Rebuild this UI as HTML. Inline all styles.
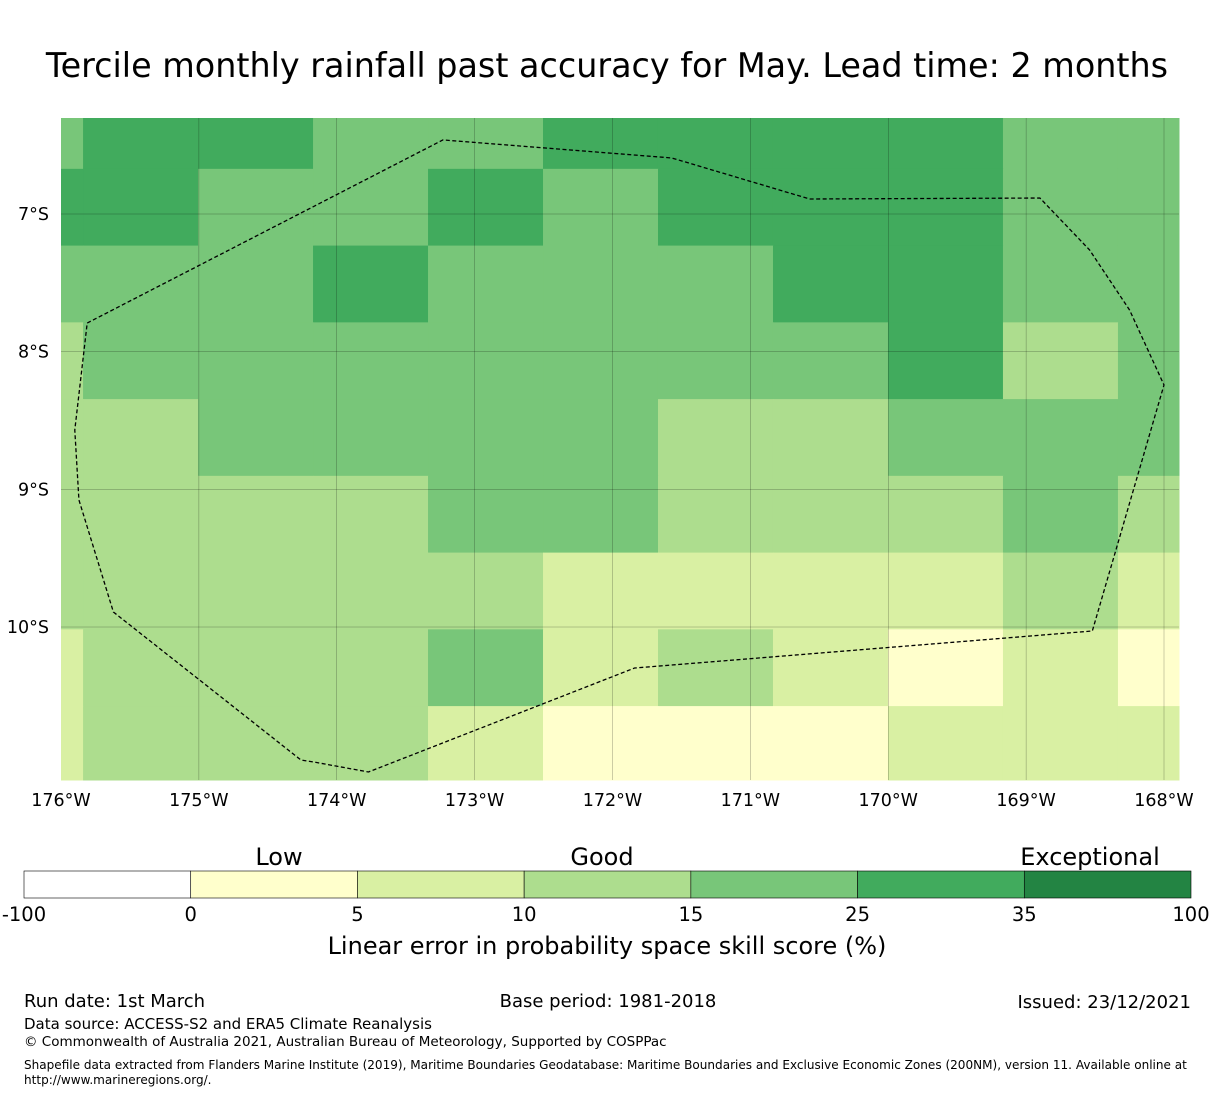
<!DOCTYPE html>
<html><head><meta charset="utf-8"><style>
body{margin:0;background:#fff;font-family:"DejaVu Sans","Liberation Sans",sans-serif;}
svg text{font-family:"DejaVu Sans","Liberation Sans",sans-serif;}
</style></head><body>
<svg id="chart" width="1215" height="1095" viewBox="0 0 1215 1095" xmlns="http://www.w3.org/2000/svg">
<text x="607" y="77" font-size="33.4" text-anchor="middle">Tercile monthly rainfall past accuracy for May. Lead time: 2 months</text>
<g id="cells"></g>
<g id="grid"></g>
<g id="eez"></g>
<g id="xt"></g>
<g id="yt"></g>
<g id="cbar"></g>
<text x="279" y="865" font-size="24" text-anchor="middle">Low</text>
<text x="602" y="865" font-size="24" text-anchor="middle">Good</text>
<text x="1090" y="865" font-size="24" text-anchor="middle">Exceptional</text>
<text x="607" y="954" font-size="24" text-anchor="middle">Linear error in probability space skill score (%)</text>
<text x="24" y="1007" font-size="18">Run date: 1st March</text>
<text x="608" y="1007" font-size="18" text-anchor="middle">Base period: 1981-2018</text>
<text x="1191" y="1008" font-size="18" text-anchor="end">Issued: 23/12/2021</text>
<text x="24" y="1029" font-size="15">Data source: ACCESS-S2 and ERA5 Climate Reanalysis</text>
<text x="24" y="1046" font-size="13.5">© Commonwealth of Australia 2021, Australian Bureau of Meteorology, Supported by COSPPac</text>
<text x="24" y="1069" font-size="12.05">Shapefile data extracted from Flanders Marine Institute (2019), Maritime Boundaries Geodatabase: Maritime Boundaries and Exclusive Economic Zones (200NM), version 11. Available online at</text>
<text x="24" y="1084" font-size="12.05">http://www.marineregions.org/.</text>
</svg>
<script>
const levels = [
[4,5,5,4,4,5,5,5,5,4,4],
[5,5,4,4,5,4,5,5,5,4,4],
[4,4,4,5,4,4,4,5,5,4,4],
[3,4,4,4,4,4,4,4,5,3,4],
[3,3,4,4,4,4,3,3,4,4,4],
[3,3,3,3,4,4,3,3,3,4,3],
[3,3,3,3,3,2,2,2,2,3,2],
[2,3,3,3,4,2,3,2,1,2,1],
[2,3,3,3,2,1,1,1,2,2,2]
];
const colors = ["#ffffff","#ffffcc","#d9f0a3","#addd8e","#78c679","#41ab5d","#238443"];
const cbTicks = ["-100","0","5","10","15","25","35","100"];
const lonTicks = [-176,-175,-174,-173,-172,-171,-170,-169,-168];
const latTicks = [-7,-8,-9,-10];
const eezLon = [-175.81,-173.23,-171.57,-170.57,-168.90,-168.54,-168.25,-168.00,-168.52,-171.84,-173.77,-174.17,-174.26,-175.62,-175.87,-175.90,-175.81];
const eezLat = [-7.792,-6.462,-6.593,-6.891,-6.884,-7.261,-7.697,-8.242,-10.029,-10.298,-11.053,-10.98,-10.966,-9.891,-9.077,-8.569,-7.792];
const NS="http://www.w3.org/2000/svg";
const x = lon => 61 + (lon+176)*137.875;
const y = lat => 214 + (-7-lat)*137.67;
const L0=61,R0=1179,T0=118,B0=780;
const lonEdge0=-175.84, dLon=0.834, latEdge0=-6.672, dLat=0.5575;
function mk(tag,attrs,parent){const e=document.createElementNS(NS,tag);for(const k in attrs)e.setAttribute(k,attrs[k]);parent.appendChild(e);return e;}
const cells=document.getElementById('cells');
levels.forEach((row,r)=>{
  row.forEach((v,c)=>{
    let x0=c===0?L0:x(lonEdge0+(c-1)*dLon), x1=x(lonEdge0+c*dLon);
    if(c===row.length-1) x1=R0;
    let y0=r===0?T0:y(latEdge0-(r-1)*dLat), y1=y(latEdge0-r*dLat);
    if(r===levels.length-1) y1=B0;
    x0=Math.max(L0,x0); x1=Math.min(R0,x1);
    const el=mk('rect',{x:x0,y:y0,width:x1-x0+0.5,height:y1-y0+0.5,fill:colors[v]},cells);
    
    
  });
});
const grid=document.getElementById('grid'), xt=document.getElementById('xt'), yt=document.getElementById('yt');
lonTicks.forEach(l=>{
  const X=x(l);
  if(X>L0+1&&X<R0){const g=mk('line',{x1:X,x2:X,y1:T0,y2:B0,stroke:'#000','stroke-width':0.5,'stroke-opacity':0.4},grid);
  
  }
  const t=mk('text',{x:X,y:806,'font-size':17.5,'text-anchor':'middle'},xt);
  t.textContent=Math.abs(l)+'°W';
  
  
});
latTicks.forEach(l=>{
  const Y=y(l);
  const g=mk('line',{x1:L0,x2:R0,y1:Y,y2:Y,stroke:'#000','stroke-width':0.5,'stroke-opacity':0.4},grid);
  
  
  const t=mk('text',{x:49,y:Y+6,'font-size':17.5,'text-anchor':'end'},yt);
  t.textContent=Math.abs(l)+'°S';
  
  
});
const pts=eezLon.map((lo,i)=>x(lo)+','+y(eezLat[i])).join(' ');
const pl=mk('polyline',{points:pts,fill:'none',stroke:'#000','stroke-width':1.3,'stroke-dasharray':'4,2.5'},document.getElementById('eez'));


const cb=document.getElementById('cbar');
const cbX0=24,cbX1=1191,cbW=(cbX1-cbX0)/7;
for(let i=0;i<7;i++){
  const r=mk('rect',{x:cbX0+i*cbW,y:871,width:cbW,height:27,fill:colors[i],stroke:'#000','stroke-width':0.6},cb);
  
  
}
cbTicks.forEach((t,i)=>{
  const e=mk('text',{x:cbX0+i*cbW,y:921,'font-size':19.5,'text-anchor':'middle'},cb);
  e.textContent=t;
  
  
});
</script>
</body></html>
